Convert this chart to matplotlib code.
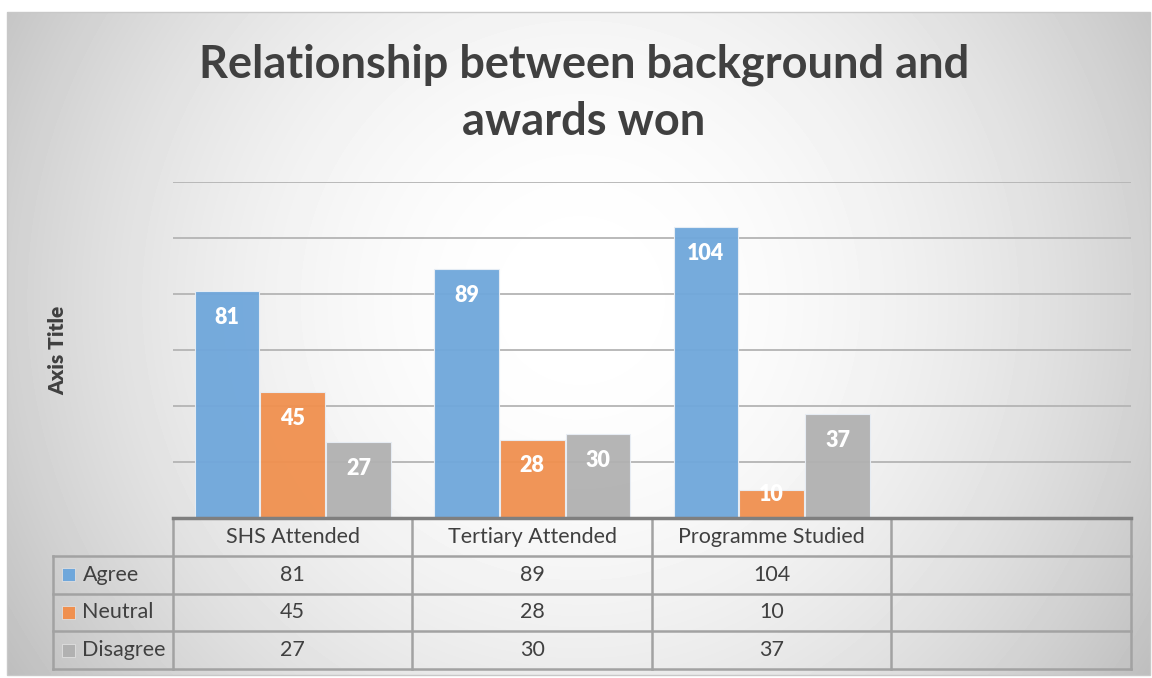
import matplotlib.pyplot as plt
from matplotlib.patches import Rectangle
import numpy as np

plt.rcParams['font.family'] = ['Lato', 'DejaVu Sans']

# data
categories = ['SHS Attended', 'Tertiary Attended', 'Programme Studied', '']
series = ['Agree', 'Neutral', 'Disagree']
agree = [81, 89, 104]
neutral = [45, 28, 10]
disagree = [27, 30, 37]
colors = ['#6fa7db', '#f0904f', '#b1b1b1']
values = [agree, neutral, disagree]

W, H = 1152, 678
fig = plt.figure(figsize=(W / 100, H / 100), dpi=100)

# background with radial gradient
bg = fig.add_axes([0, 0, 1, 1])
bg.set_xlim(0, W)
bg.set_ylim(H, 0)
bg.axis('off')
xx, yy = np.meshgrid(np.arange(7, 1150), np.arange(12, 675))
d2 = (xx - 580) ** 2 + (yy - 300) ** 2
shade = np.clip(255 - 1.4e-4 * d2, 190, 255) / 255
bg.imshow(shade, cmap='gray', vmin=0, vmax=1, extent=(7, 1150, 675, 12), aspect='auto', zorder=0)
bg.add_patch(Rectangle((7, 12), 1143, 663, fill=False, edgecolor='#c8c8c8', lw=1, zorder=1))

fig.text(584 / W, 1 - 65 / H, 'Relationship between background and', ha='center', va='center',
         fontsize=32.5, fontweight='bold', color='#404040')
fig.text(584 / W, 1 - 122 / H, 'awards won', ha='center', va='center',
         fontsize=32.5, fontweight='bold', color='#404040')
fig.text(58 / W, 1 - 350 / H, 'Axis Title', ha='center', va='center', rotation=90,
         fontsize=15, fontweight='heavy', color='#404040')

# bar area
ax = fig.add_axes([173 / W, 1 - 518 / H, 958 / W, 336 / H])
ax.patch.set_visible(False)
ax.set_xlim(-0.5, 3.5)
ax.set_ylim(0, 120)
for s in ax.spines.values():
    s.set_visible(False)
ax.set_xticks([])
ax.set_yticks([])
for g in range(20, 121, 20):
    ax.axhline(g, color='#b4b4b4', lw=1.3, zorder=1)

step = 0.275
x = np.arange(len(agree))
for k, (vals, c) in enumerate(zip(values, colors)):
    xs = x + (k - 1) * step
    ax.bar(xs, vals, width=0.27, color=c, edgecolor='#e8eef5', linewidth=0.8, alpha=0.95, zorder=2)
    for xi, v in zip(xs, vals):
        off = -19 if v > 15 else -3
        ax.annotate(str(v), (xi, v), xytext=(0, off), textcoords='offset points',
                    ha='center', va='center', color='white', fontsize=15.5, fontweight='heavy',
                    zorder=3, annotation_clip=False)

# data table
tb = fig.add_axes([53 / W, 1 - 669 / H, 1078 / W, 151 / H])
tb.patch.set_visible(False)
tb.set_xlim(-1, 3.5)
tb.set_ylim(4, 0)
tb.axis('off')
lc = '#a2a2a2'
for r in range(1, 5):
    tb.plot([-1, 3.5], [r, r], color=lc, lw=1.8, clip_on=False)
tb.plot([-1, -1], [1, 4], color=lc, lw=1.8, clip_on=False)
for xv in [-0.5, 0.5, 1.5, 2.5, 3.5]:
    tb.plot([xv, xv], [0, 4], color=lc, lw=1.8, clip_on=False)
tb.plot([-0.5, 3.5], [0, 0], color='#7f7f7f', lw=2.5, clip_on=False)

for i, cat in enumerate(categories):
    tb.text(i, 0.5, cat, ha='center', va='center', fontsize=15.5, color='#404040')
for r, (name, vals, c) in enumerate(zip(series, values, colors)):
    y = r + 1.5
    tb.add_patch(Rectangle((-0.962, y - 0.17), 0.054, 0.34, facecolor=c, edgecolor='#e0e0e0', lw=0.6))
    tb.text(-0.877, y, name, ha='left', va='center', fontsize=15.5, color='#404040')
    for i, v in enumerate(vals):
        tb.text(i, y, str(v), ha='center', va='center', fontsize=15.5, color='#404040')

fig.savefig('out.png', dpi=100)
